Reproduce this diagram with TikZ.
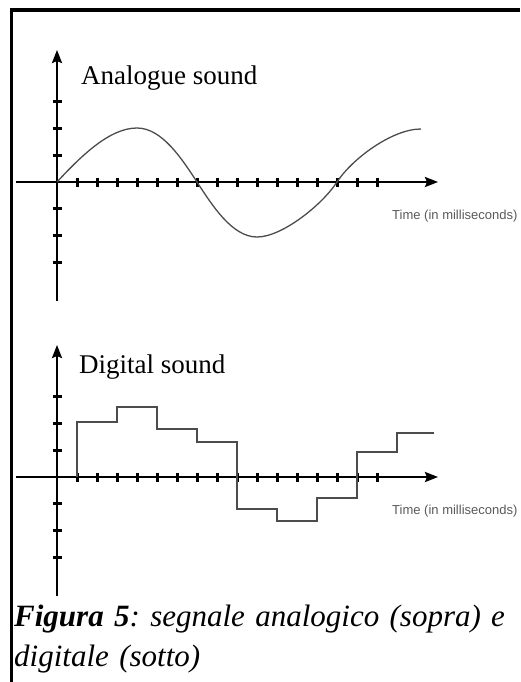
\documentclass[tikz,border=0pt]{standalone}
\usepackage{fontspec}
\usepackage{tikz}
\usetikzlibrary{calc}
\usetikzlibrary{arrows.meta}
\newfontfamily\capfont{Liberation Serif}
\newfontfamily\timefont{Liberation Sans}
\frenchspacing
\newcommand\soundaxes[2]{
    \def\t{20}
    \def\v{26.7}
    \def\A{#1}
    \coordinate (O#2) at (\A);
    \coordinate (L#2) at ($(\A) + (-41,0)$);
    \coordinate (R#2) at ($(\A) + (381,0)$);
    \coordinate (U#2) at ($(\A) + (0,-132)$);
    \coordinate (D#2) at ($(\A) + (0,119)$);
    \draw[axis] (L#2) -- (R#2);
    \draw[axis] (D#2) -- (U#2);
    \foreach \i in {1,...,16}
    {
        \draw[tick] ($(\A) + ({\i*\t},-4.5)$) -- ($(\A) + ({\i*\t},4.5)$);
    }
    \foreach \j in {-3,-2,-1,1,2,3}
    {
        \draw[tick] ($(\A) + (-4.5,{\j*\v})$) -- ($(\A) + (4.5,{\j*\v})$);
    }
    \node[timelbl, anchor=west] (T#2) at ($(\A) + (335,34)$) {Time (in milliseconds)};
}

\begin{document}
\begin{tikzpicture}[
        x=1pt, y=-1pt,
        axis/.style={line width=2.4pt, -{Stealth[length=13pt,width=10pt,inset=2pt]}},
        tick/.style={line width=3pt},
        wave/.style={draw=black!70, line width=1.3pt},
        title/.style={font=\capfont\fontsize{27}{32}\selectfont, inner sep=0pt},
        timelbl/.style={font=\timefont\fontsize{13}{15}\selectfont, text=black!65, inner sep=0pt},
        caption/.style={font=\capfont\itshape\fontsize{31}{40}\selectfont, text width=506pt,
            align=left, inner sep=0pt},
        frame/.style={line width=3.3pt}
    ]
    \useasboundingbox (0,0) rectangle (520,682);
    \draw[frame] (11.7,682) |- (520,10);

    \soundaxes{57,182}{A}
    \soundaxes{57,477}{D}

    \node[title, anchor=base west] (NA) at ($(OA) + (24,-97)$) {Analogue sound};
    \node[title, anchor=base west] (ND) at ($(OD) + (22,-104)$) {Digital sound};

    \draw[wave] (OA) .. controls (82,155) and (110,128) .. (137,128)
        .. controls (162,128) and (182,159) .. (197,182)
        .. controls (212,205) and (232,237) .. (257,237)
        .. controls (282,237) and (322,205) .. (337,182)
        .. controls (352,159) and (392,129) .. (421,129);

    \draw[wave] (77,477) |- (117,422) |- (157,407) |- (197,429) |- (237,442)
        |- (277,509) |- (317,521) |- (357,498) |- (397,452) |- (434,433);

    \node[caption, anchor=north west] (C) at (14,605)
        {\textbf{Figura 5}: segnale analogico (sopra) e digitale (sotto)};
\end{tikzpicture}
\end{document}
